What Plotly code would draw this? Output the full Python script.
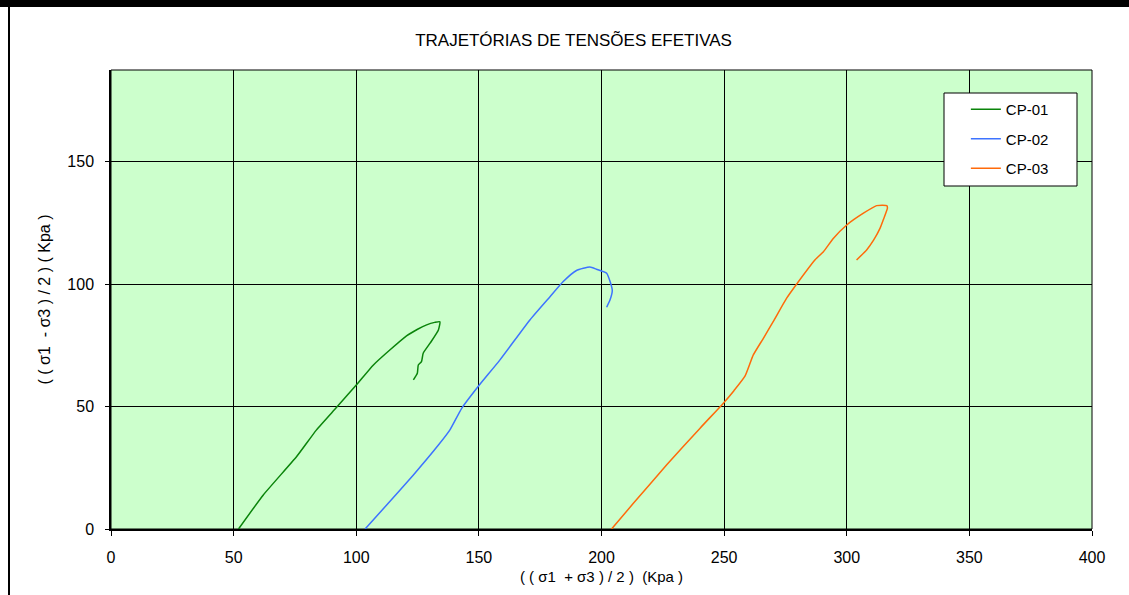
import plotly.graph_objects as go

# CP-01
cp01_x = [52.0, 62.1, 75.7, 83.8, 92.0, 100.1, 107.0, 113.8, 120.5, 125.0, 128.7, 132.0, 134.1, 133.5, 130.1, 127.3, 126.6, 125.3, 124.9, 123.3]
cp01_y = [0.0, 13.9, 29.6, 40.5, 49.7, 58.9, 67.0, 73.2, 78.9, 81.6, 83.4, 84.4, 84.7, 81.3, 75.9, 71.8, 68.4, 67.0, 63.6, 60.9]
# CP-02
cp02_x = [103.6, 112.4, 123.3, 133.5, 138.2, 143.0, 149.7, 158.6, 170.8, 179.0, 184.4, 189.8, 195.3, 198.0, 202.1, 203.5, 204.4, 203.5, 202.1]
cp02_y = [0.0, 9.8, 22.1, 34.3, 40.5, 49.3, 58.2, 69.1, 85.4, 94.9, 101.1, 105.6, 107.0, 106.1, 104.5, 101.1, 97.4, 93.6, 90.6]
# CP-03
cp03_x = [204.1, 213.0, 226.6, 240.2, 249.7, 254.0, 258.5, 261.9, 266.0, 270.0, 275.5, 279.6, 287.1, 290.5, 294.6, 300.0, 306.8, 312.2, 316.3, 316.6, 314.9, 313.6, 311.0, 308.1, 304.0]
cp03_y = [0.0, 10.5, 26.2, 41.2, 51.4, 56.5, 62.4, 71.1, 77.9, 84.7, 94.3, 100.1, 110.0, 113.3, 118.8, 124.2, 129.0, 132.1, 132.1, 131.1, 126.3, 122.9, 118.1, 114.0, 109.9]

series = [("CP-01", cp01_x, cp01_y, "#0a840a"),
          ("CP-02", cp02_x, cp02_y, "#3d73ff"),
          ("CP-03", cp03_x, cp03_y, "#ff6a0a")]

x_ticks = [0, 50, 100, 150, 200, 250, 300, 350, 400]
y_ticks = [0, 50, 100, 150]

fig = go.Figure()
for i, (name, xs, ys, col) in enumerate(series):
    fig.add_trace(go.Scatter(x=xs, y=ys, mode="lines", name=name,
                             line=dict(color=col, width=1.5, shape="spline", smoothing=0.5),
                             legendgroup=name))

font_family = "Liberation Sans, Arial, sans-serif"

fig.update_layout(
    width=1129, height=595,
    margin=dict(l=111, r=37, t=70, b=66),
    paper_bgcolor="white",
    plot_bgcolor="#CCFFCC",
    font=dict(family=font_family, color="black", size=16),
    title=dict(text="TRAJETÓRIAS DE TENSÕES EFETIVAS", x=0.508, xanchor="center",
               y=0.933, yanchor="middle", font=dict(size=17)),
    showlegend=True,
    legend=dict(x=0.849, y=0.950, xanchor="left", yanchor="top",
                bgcolor="rgba(0,0,0,0)", borderwidth=0,
                font=dict(size=15), traceorder="grouped", tracegroupgap=7,
                itemwidth=30, indentation=22),
    xaxis=dict(range=[0, 400], tickvals=x_ticks, ticktext=[str(v) for v in x_ticks],
               showgrid=True, gridcolor="black", gridwidth=1,
               showline=True, linecolor="black", linewidth=1.5, mirror=False,
               ticks="outside", ticklen=5, tickcolor="black", ticklabelstandoff=8,
               zeroline=False,
               title=dict(text="( ( σ1  + σ3 ) / 2 )  (Kpa )", font=dict(size=15), standoff=7)),
    yaxis=dict(range=[0, 187.5], tickvals=y_ticks, ticktext=[str(v) for v in y_ticks],
               showgrid=True, gridcolor="black", gridwidth=1,
               showline=True, linecolor="black", linewidth=1.5,
               ticks="outside", ticklen=4, tickcolor="black", ticklabelstandoff=8,
               zeroline=False,
               title=dict(text="( ( σ1  - σ3 ) / 2 ) ( Kpa )", font=dict(size=16), standoff=13)),
)

# legend box
fig.add_shape(type="rect", xref="paper", yref="paper",
              x0=(944 - 111) / 981, x1=(1077 - 111) / 981,
              y0=(529 - 186) / 459, y1=(529 - 93) / 459,
              fillcolor="white", line=dict(color="black", width=1), layer="above")
# outer frame pieces (top bar and left line)
fig.add_shape(type="rect", xref="paper", yref="paper",
              x0=-0.12, x1=1.04, y0=(529 - 7) / 459, y1=1.16,
              fillcolor="black", line=dict(width=0), layer="above")
fig.add_shape(type="line", xref="paper", yref="paper",
              x0=(9 - 111) / 981, x1=(9 - 111) / 981, y0=-0.15, y1=1.16,
              line=dict(color="black", width=2), layer="above")
# plot area border on top and right
fig.add_shape(type="rect", xref="paper", yref="paper", x0=0, x1=1, y0=0, y1=1,
              line=dict(color="black", width=1), fillcolor="rgba(0,0,0,0)", layer="below")

fig.write_html("out.html")
